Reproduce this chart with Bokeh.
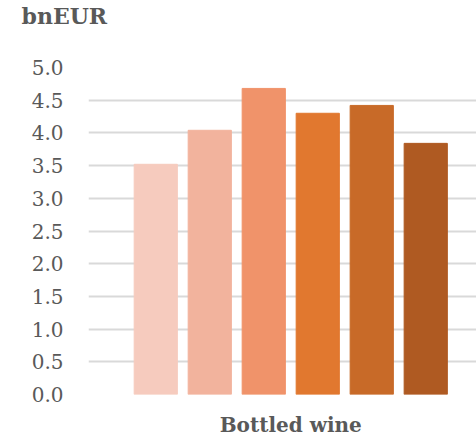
from bokeh.plotting import figure
from bokeh.models import Range1d, FixedTicker, PrintfTickFormatter, ColumnDataSource, Title
from bokeh.embed import file_html
from bokeh.resources import INLINE

series = ["2016", "2017", "2018", "2019", "2020", "2021"]
values = [3.52, 4.04, 4.68, 4.30, 4.42, 3.84]
colors = ["#F6CBBE", "#F2B39D", "#F0936A", "#E1782F", "#C86A28", "#AF5A22"]
category = "Bottled wine"
unit = "bnEUR"
y_ticks = [0.0, 0.5, 1.0, 1.5, 2.0, 2.5, 3.0, 3.5, 4.0, 4.5, 5.0]

FONT = "DejaVu Serif"
GRAY = "#595959"

src = ColumnDataSource(dict(x=list(range(len(series))), top=values, color=colors, name=series))

p = figure(width=476, height=439, output_backend="svg", toolbar_location=None,
           x_range=Range1d(-1.246, 5.94), y_range=Range1d(0, 5.0),
           min_border_left=88, min_border_right=0, min_border_top=67, min_border_bottom=45)
p.outline_line_color = None
p.background_fill_color = "white"
p.border_fill_color = "white"

# spacer nearest the frame, then the unit title further out
p.add_layout(Title(text=" ", text_font_size="1px", standoff=36), "above")
p.add_layout(Title(text=unit, align="left", offset=-67, standoff=0,
                   text_font=FONT, text_font_size="22px", text_font_style="bold",
                   text_color=GRAY), "above")

p.vbar(x="x", top="top", width=0.8, color="color", source=src)

p.xgrid.grid_line_color = None
p.ygrid.ticker = FixedTicker(ticks=y_ticks)
p.ygrid.grid_line_color = "#d9d9d9"
p.ygrid.grid_line_width = 2

p.yaxis.ticker = FixedTicker(ticks=y_ticks)
p.yaxis.formatter = PrintfTickFormatter(format="%.1f")
p.yaxis.axis_line_color = None
p.yaxis.major_tick_line_color = None
p.yaxis.minor_tick_line_color = None
p.yaxis.major_tick_out = 0
p.yaxis.major_tick_in = 0
p.yaxis.major_label_text_font = FONT
p.yaxis.major_label_text_font_size = "20px"
p.yaxis.major_label_text_color = GRAY
p.yaxis.major_label_standoff = 25

p.xaxis.ticker = FixedTicker(ticks=[(len(series) - 1) / 2])
p.xaxis.major_label_overrides = {(len(series) - 1) / 2: category}
p.xaxis.axis_line_color = None
p.xaxis.major_tick_line_color = None
p.xaxis.minor_tick_line_color = None
p.xaxis.major_tick_out = 0
p.xaxis.major_tick_in = 0
p.xaxis.major_label_text_font = FONT
p.xaxis.major_label_text_font_size = "20px"
p.xaxis.major_label_text_font_style = "bold"
p.xaxis.major_label_text_color = GRAY
p.xaxis.major_label_standoff = 18

open("out.html", "w").write(file_html(p, INLINE))
